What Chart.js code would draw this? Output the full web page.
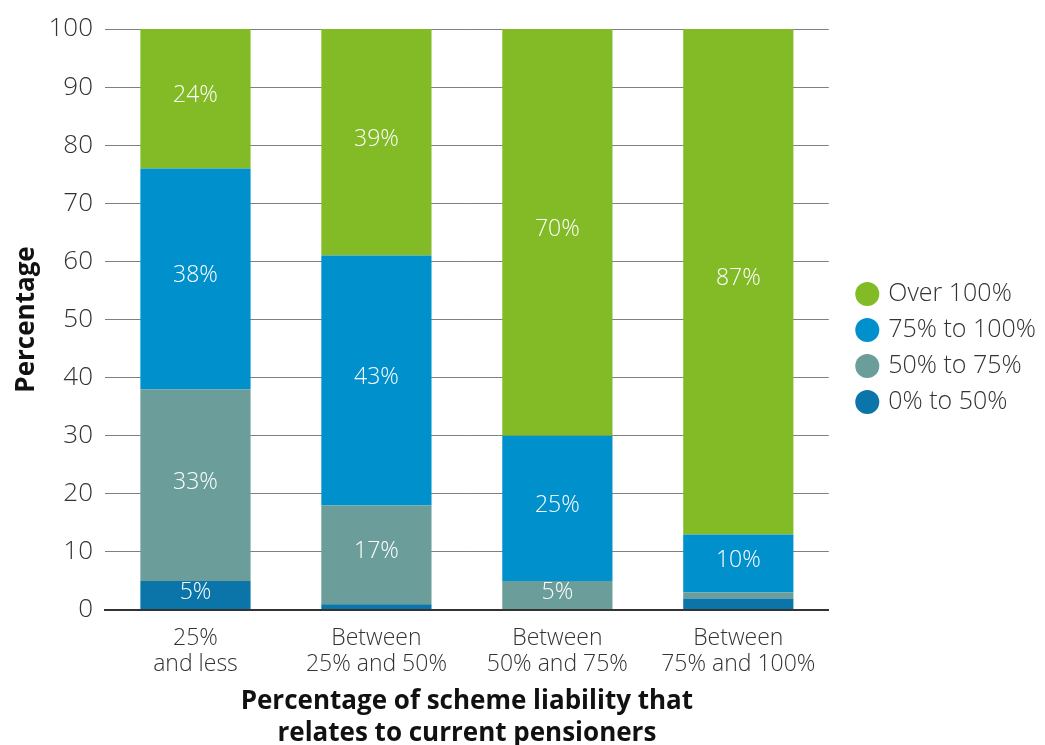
<!DOCTYPE html>
<html>
<head>
<meta charset="utf-8">
<script src="https://cdn.jsdelivr.net/npm/chart.js@4/dist/chart.umd.min.js"></script>
<style>
  body { margin: 0; background: #fff; }
</style>
</head>
<body>
<canvas id="myChart" width="1045" height="745"></canvas>
<script>
const categories = [
  ['25%', 'and less'],
  ['Between', '25% and 50%'],
  ['Between', '50% and 75%'],
  ['Between', '75% and 100%']
];

// funding level bands, stacked bottom to top
const band0to50 = [5, 1, 0, 2];
const band50to75 = [33, 17, 5, 1];
const band75to100 = [38, 43, 25, 10];
const bandOver100 = [24, 39, 70, 87];

const yTicks = [0, 10, 20, 30, 40, 50, 60, 70, 80, 90, 100];

const font = "'Open Sans', 'Noto Sans', sans-serif";

// white % labels in the middle of each segment (small ones are left out)
const segmentLabels = {
  id: 'segmentLabels',
  afterLayout(chart) {
    // move the legend up from the canvas middle and a little to the right
    const lg = chart.legend;
    lg.top -= 39;
    lg.bottom -= 39;
    lg.left += 19;
    lg.right += 19;
  },
  afterDatasetsDraw(chart) {
    const ctx = chart.ctx;
    ctx.save();
    ctx.fillStyle = '#ffffff';
    ctx.font = '300 23px ' + font;
    ctx.textAlign = 'center';
    ctx.textBaseline = 'middle';
    chart.data.datasets.forEach((ds, i) => {
      const meta = chart.getDatasetMeta(i);
      meta.data.forEach((bar, j) => {
        const v = ds.data[j];
        if (v < 5) return;
        ctx.fillText(v + '%', bar.x, (bar.y + bar.base) / 2 - 3);
      });
    });
    ctx.restore();
  }
};

const ctx = document.getElementById('myChart');

const myChart = new Chart(ctx, {
  type: 'bar',
  data: {
    labels: categories,
    datasets: [
      { label: '0% to 50%', data: band0to50, backgroundColor: '#0b74a8' },
      { label: '50% to 75%', data: band50to75, backgroundColor: '#6b9e9a' },
      { label: '75% to 100%', data: band75to100, backgroundColor: '#0091cd' },
      { label: 'Over 100%', data: bandOver100, backgroundColor: '#83bb27' }
    ]
  },
  options: {
    responsive: false,
    animation: false,
    layout: { padding: { top: 29, right: 18, left: 0, bottom: 0 } },
    datasets: {
      bar: { barPercentage: 0.609, categoryPercentage: 1, borderWidth: 0 }
    },
    plugins: {
      tooltip: { enabled: false },
      legend: {
        position: 'right',
        reverse: true,
        labels: {
          usePointStyle: true,
          pointStyle: 'circle',
          boxWidth: 17,
          boxHeight: 17,
          padding: 11,
          color: '#333',
          font: { family: font, size: 25, weight: 300, lineHeight: 1.2 }
        }
      }
    },
    scales: {
      x: {
        stacked: true,
        afterFit: scale => { scale.height = 135; },
        grid: { display: false },
        border: { color: '#333', width: 2 },
        ticks: {
          color: '#333',
          padding: 7,
          font: { family: font, size: 23, weight: 300, lineHeight: 1.13 }
        },
        title: {
          display: true,
          text: ['Percentage of scheme liability that', 'relates to current pensioners'],
          color: '#111',
          padding: { top: 0, bottom: -5 },
          font: { family: font, size: 26, weight: 'bold', lineHeight: 1.23 }
        }
      },
      y: {
        stacked: true,
        min: 0,
        max: 100,
        afterFit: scale => { scale.width = 105; },
        afterBuildTicks: axis => {
          axis.ticks = yTicks.map(v => ({ value: v }));
        },
        border: { display: false },
        grid: {
          drawTicks: false,
          color: c => c.tick && c.tick.value === 0 ? '#333' : '#808080',
          lineWidth: c => c.tick && c.tick.value === 0 ? 2 : 1
        },
        ticks: {
          color: '#333',
          padding: 12,
          font: { family: font, size: 26, weight: 300 }
        },
        title: {
          display: true,
          text: 'Percentage',
          color: '#111',
          padding: { top: 11, bottom: 0 },
          font: { family: font, size: 26, weight: 'bold', lineHeight: 1.2 }
        }
      }
    }
  },
  plugins: [segmentLabels]
});
</script>
</body>
</html>
